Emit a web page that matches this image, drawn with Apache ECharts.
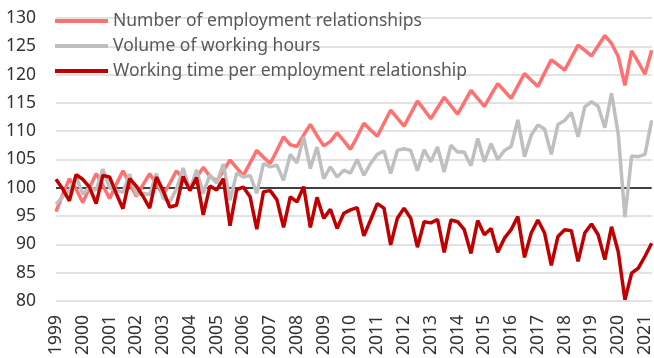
<!DOCTYPE html>
<html>
<head>
<meta charset="utf-8">
<script src="https://cdn.jsdelivr.net/npm/echarts@6/dist/echarts.min.js"></script>
<style>
  html, body { margin: 0; padding: 0; background: #fff; }
  #chart { width: 654px; height: 358px; }
</style>
</head>
<body>
<div id="chart"></div>
<script>
// Quarterly index, 1999 Q1 to 2021 Q2
const years = ['1999','2000','2001','2002','2003','2004','2005','2006','2007','2008','2009','2010',
               '2011','2012','2013','2014','2015','2016','2017','2018','2019','2020','2021'];
const quarters = ['Q1','Q2','Q3','Q4'];
const lastQuarterCount = 2; // 2021 runs to Q2

const seriesNames = ['Number of employment relationships', 'Volume of working hours',
                     'Working time per employment relationship'];

const employmentRelationships = [
  95.8, 98.8, 101.6, 99.8,   97.4, 100.0, 102.5, 100.4,   98.1, 100.6, 103.0, 100.8,
  98.5, 100.5, 102.5, 100.6,   98.7, 100.8, 103.0, 101.6,   100.0, 101.8, 103.6, 102.0,
  101.2, 103.0, 104.9, 103.5,   102.2, 104.4, 106.6, 105.4,   104.3, 106.6, 109.0, 107.6,
  107.3, 109.3, 111.2, 109.2,   107.4, 108.2, 109.7, 108.3,   106.8, 109.0, 111.4, 110.2,
  109.1, 111.4, 113.7, 112.3,   110.9, 113.1, 115.3, 113.8,   112.2, 114.1, 116.0, 114.5,
  113.0, 115.1, 117.2, 115.8,   114.4, 116.4, 118.4, 117.1,   115.8, 118.0, 120.2, 119.0,
  117.9, 120.3, 122.6, 121.7,   120.8, 123.0, 125.2, 124.3,   123.3, 125.1, 126.9, 125.5,
  123.2, 118.1, 124.2, 122.2,   120.1, 124.3
];

const workingHoursVolume = [
  97.1, 98.4, 99.5, 102.0,   98.9, 100.1, 99.6, 103.3,   100.0, 99.6, 99.2, 102.4,
  98.8, 99.0, 98.8, 102.5,   98.2, 97.5, 99.8, 103.5,   99.5, 103.2, 99.0, 102.3,
  100.8, 104.2, 97.8, 102.6,   101.9, 102.2, 99.0, 104.3,   103.7, 104.0, 101.3, 105.9,
  104.4, 109.0, 103.4, 107.2,   101.6, 103.7, 101.9, 103.1,   102.6, 105.0, 102.2, 104.3,
  105.9, 106.5, 102.5, 106.6,   106.9, 106.6, 103.0, 106.7,   104.6, 107.2, 102.8, 107.5,
  106.3, 106.3, 103.9, 108.7,   104.6, 107.8, 105.0, 106.6,   107.3, 112.0, 105.5, 109.3,
  111.1, 110.4, 105.9, 111.2,   111.9, 113.3, 109.0, 114.3,   115.2, 114.4, 110.6, 116.7,
  109.5, 94.8, 105.6, 105.5,   105.9, 111.9
];

const workingTimePerRelationship = [
  101.5, 99.8, 97.7, 102.3,   101.5, 100.1, 97.2, 102.2,   101.9, 99.0, 96.3, 101.6,
  100.3, 98.5, 96.4, 101.9,   99.5, 96.6, 96.9, 102.0,   99.5, 101.8, 95.2, 100.3,
  99.6, 101.6, 93.3, 99.7,   100.1, 98.4, 92.7, 99.3,   99.5, 97.9, 93.0, 98.4,
  97.5, 100.2, 93.0, 98.3,   94.6, 96.2, 92.8, 95.5,   96.1, 96.5, 91.5, 94.3,
  97.2, 96.4, 89.9, 94.6,   96.4, 94.6, 89.5, 94.0,   93.8, 94.4, 88.6, 94.3,
  94.0, 92.6, 88.4, 94.2,   91.7, 92.8, 88.6, 91.1,   92.6, 94.9, 87.7, 92.0,
  94.3, 92.0, 86.3, 91.4,   92.6, 92.4, 87.0, 92.0,   93.6, 91.7, 87.3, 93.1,
  88.7, 80.2, 84.9, 85.8,   87.9, 90.2
];

const yTicks = { min: 80, max: 130, step: 5 };
const baseline = 100;

// Build the quarterly category list
const categories = [];
years.forEach((y, yi) => {
  const n = yi === years.length - 1 ? lastQuarterCount : 4;
  for (let q = 0; q < n; q++) categories.push(y + ' ' + quarters[q]);
});

// Horizontal grid: light grey, with the 100 line drawn in black
const gridColors = [];
for (let v = yTicks.min; v <= yTicks.max; v += yTicks.step) {
  gridColors.push(v === baseline ? '#000000' : '#d9d9d9');
}

const colors = ['#ff7171', '#bfbfbf', '#c00000'];
const fontFamily = '"Noto Sans", "Open Sans", sans-serif';

const chart = echarts.init(document.getElementById('chart'), null, { renderer: 'canvas' });
chart.setOption({
  animation: false,
  color: colors,
  grid: { left: 56, right: 1, top: 18, bottom: 57, containLabel: false },
  legend: {
    orient: 'vertical',
    left: 55,
    top: 7,
    padding: [5, 5, 5, 0],
    itemWidth: 53,
    itemHeight: 4,
    itemGap: 7,
    icon: 'rect',
    textStyle: { fontFamily: fontFamily, fontSize: 17.5, color: '#595959' },
    data: seriesNames
  },
  xAxis: {
    type: 'category',
    boundaryGap: false,
    data: categories,
    axisLine: { show: false },
    axisTick: { show: false },
    splitLine: { show: false },
    axisLabel: {
      rotate: 90,
      margin: 14,
      padding: [7, 0, 0, 0],
      interval: (idx) => idx % 4 === 0,
      formatter: (val) => val.slice(0, 4),
      fontFamily: fontFamily,
      fontSize: 17.5,
      color: '#333333'
    }
  },
  yAxis: {
    type: 'value',
    min: yTicks.min,
    max: yTicks.max,
    interval: yTicks.step,
    axisLine: { show: false },
    axisTick: { show: false },
    axisLabel: { margin: 20, fontFamily: fontFamily, fontSize: 17.5, color: '#333333' },
    splitLine: { show: true, lineStyle: { color: gridColors, width: 1.5 } }
  },
  series: [
    { name: seriesNames[0], type: 'line', data: employmentRelationships, showSymbol: false,
      lineStyle: { width: 3.5, color: colors[0] }, z: 2 },
    { name: seriesNames[1], type: 'line', data: workingHoursVolume, showSymbol: false,
      lineStyle: { width: 3.5, color: colors[1] }, z: 3 },
    { name: seriesNames[2], type: 'line', data: workingTimePerRelationship, showSymbol: false,
      lineStyle: { width: 3.5, color: colors[2] }, z: 4 }
  ]
});
</script>
</body>
</html>
